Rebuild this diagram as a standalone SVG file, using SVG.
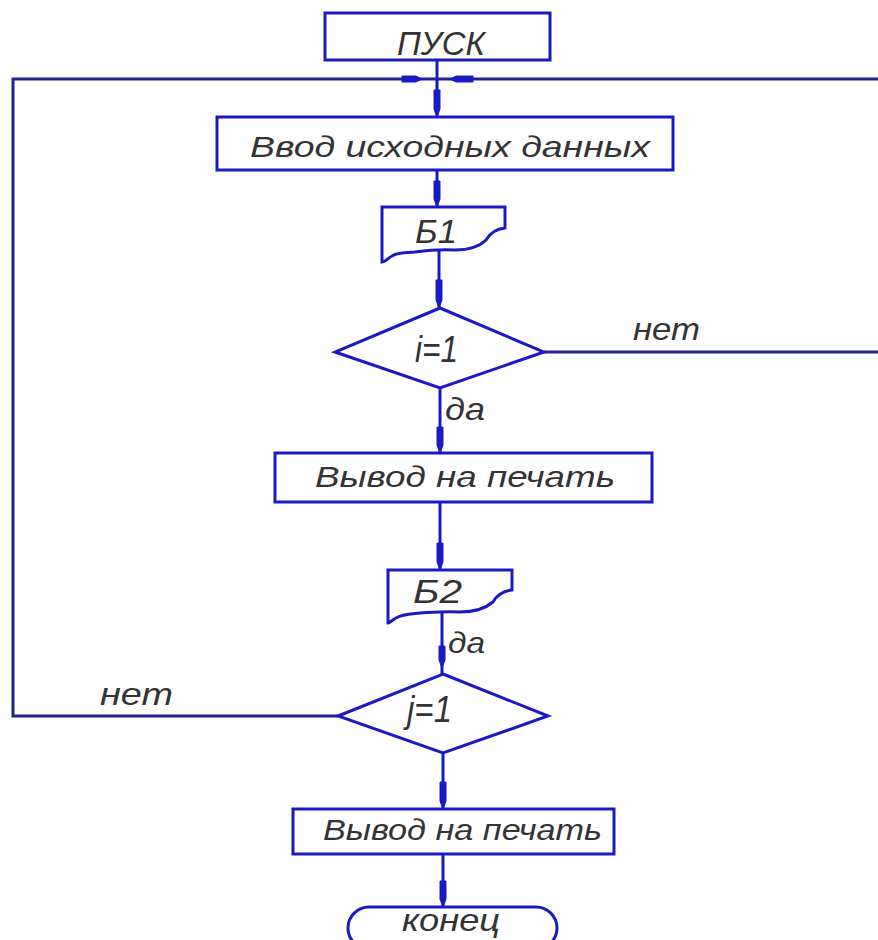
<svg xmlns="http://www.w3.org/2000/svg" width="878" height="940" viewBox="0 0 878 940">
<defs>
<style>
.bg{fill:#ffffff}
.shape{fill:#ffffff;stroke:#1a1ac4;stroke-width:3;stroke-linejoin:miter}
.line{fill:none;stroke:#1a1ac4;stroke-width:3}
.outer{fill:none;stroke:#23238f;stroke-width:3}
.arr{fill:#1a1ac4;stroke:#1a1ac4;stroke-width:1}
.t{font-family:"Liberation Sans","DejaVu Sans",sans-serif;font-style:italic;fill:#333333}
</style>
</defs>
<rect class="bg" x="0" y="0" width="878" height="940"/>

<g id="connectors">
<path class="outer" d="M878,79 H13 V716 H338"/>
<path class="outer" d="M544,352 H878"/>
<path class="line" d="M437,60 V117"/>
<path class="line" d="M437,170 V207"/>
<path class="line" d="M439,250 V308"/>
<path class="line" d="M440,388 V453"/>
<path class="line" d="M440,502 V570"/>
<path class="line" d="M442,612 V674"/>
<path class="line" d="M443,753 V809"/>
<path class="line" d="M443,854 V907"/>
<g class="arr">
<path d="M402,76 H416 L422,79 L416,82 H402 Z"/>
<path d="M473,76 H456 L450,79 L456,82 H473 Z"/>
<path d="M434,90 H440 V109 L437,117 L434,109 Z"/>
<path d="M434,181 H440 V199 L437,207 L434,199 Z"/>
<path d="M436,280 H442 V300 L439,308 L436,300 Z"/>
<path d="M437,427 H443 V445 L440,453 L437,445 Z"/>
<path d="M437,543 H443 V562 L440,570 L437,562 Z"/>
<path d="M439,646 H445 V660 L442,668 L439,660 Z"/>
<path d="M440,782 H446 V801 L443,809 L440,801 Z"/>
<path d="M440,881 H446 V899 L443,907 L440,899 Z"/>
</g>
<text class="t" x="633" y="340" font-size="32" textLength="67" lengthAdjust="spacingAndGlyphs">нет</text>
<text class="t" x="445" y="420" font-size="32" textLength="40" lengthAdjust="spacingAndGlyphs">да</text>
<text class="t" x="448" y="653" font-size="30" textLength="37" lengthAdjust="spacingAndGlyphs">да</text>
<text class="t" x="100" y="705" font-size="32" textLength="73" lengthAdjust="spacingAndGlyphs">нет</text>
</g>

<g id="start">
<rect class="shape" x="325" y="13" width="225" height="47"/>
<text class="t" x="397" y="55" font-size="34" textLength="88" lengthAdjust="spacingAndGlyphs">ПУСК</text>
</g>

<g id="input">
<rect class="shape" x="217" y="117" width="456" height="53"/>
<text class="t" x="250" y="157" font-size="30" textLength="400" lengthAdjust="spacingAndGlyphs">Ввод исходных данных</text>
</g>

<g id="b1">
<path class="shape" d="M382,207 H505 V228 C496,229 490,233 486,240 C480,246 470,250 455,250 C440,249 430,250 415,252 C405,253 398,252 392,256 C388,258 385,262 382,262 Z"/>
<text class="t" x="415" y="243" font-size="34" textLength="42" lengthAdjust="spacingAndGlyphs">Б1</text>
</g>

<g id="cond-i">
<path class="shape" d="M440,308 L544,352 L440,388 L335,352 Z"/>
<text class="t" x="415" y="362" font-size="36" textLength="43" lengthAdjust="spacingAndGlyphs">i=1</text>
</g>

<g id="print1">
<rect class="shape" x="275" y="453" width="377" height="49"/>
<text class="t" x="315" y="487" font-size="30" textLength="300" lengthAdjust="spacingAndGlyphs">Вывод на печать</text>
</g>

<g id="b2">
<path class="shape" d="M388,570 H512 V590 C503,591 497,595 493,602 C486,608 476,612 460,612 C446,611 436,612 420,613 C410,614 402,614 396,618 C392,620 390,623 388,623 Z"/>
<text class="t" x="413" y="603" font-size="34" textLength="49" lengthAdjust="spacingAndGlyphs">Б2</text>
</g>

<g id="cond-j">
<path class="shape" d="M443,674 L548,716 L443,753 L338,716 Z"/>
<text class="t" x="407" y="722" font-size="36" textLength="45" lengthAdjust="spacingAndGlyphs">j=1</text>
</g>

<g id="print2">
<rect class="shape" x="293" y="809" width="321" height="45"/>
<text class="t" x="323" y="840" font-size="30" textLength="279" lengthAdjust="spacingAndGlyphs">Вывод на печать</text>
</g>

<g id="end">
<rect class="shape" x="348" y="907" width="209" height="42" rx="21"/>
<text class="t" x="402" y="931" font-size="32" textLength="98" lengthAdjust="spacingAndGlyphs">конец</text>
</g>
</svg>
